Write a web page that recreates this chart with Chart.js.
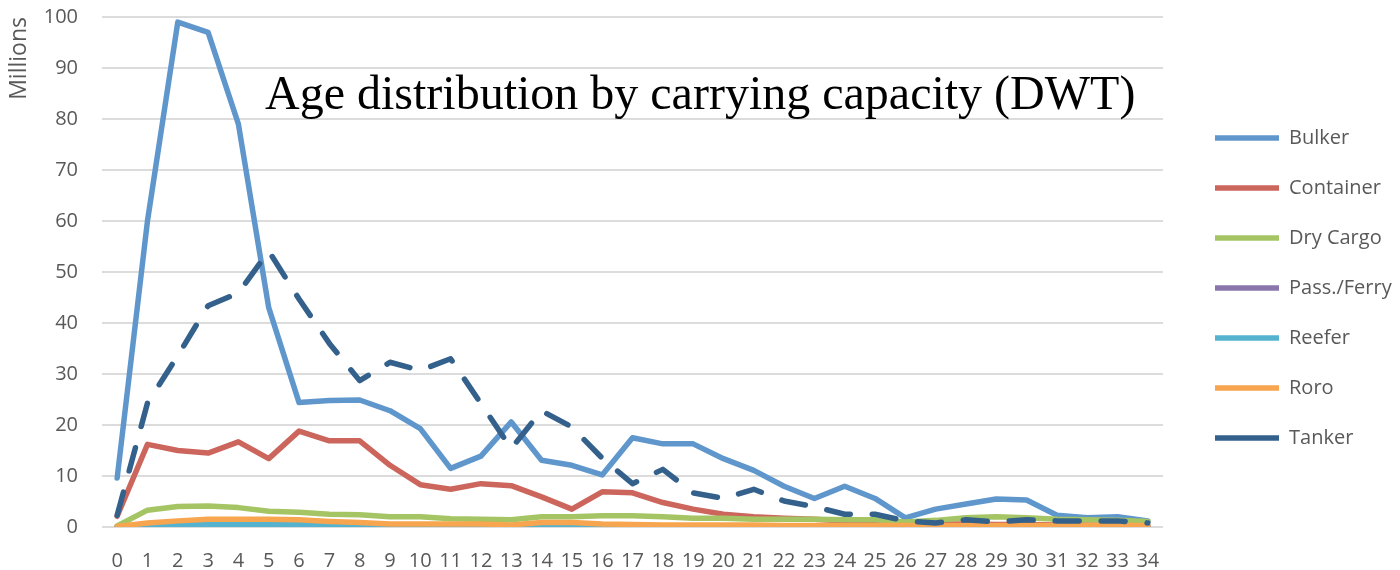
<!DOCTYPE html>
<html>
<head>
<meta charset="utf-8">
<script src="https://cdn.jsdelivr.net/npm/chart.js@4.4.1/dist/chart.umd.min.js"></script>
<style>
  html, body { margin: 0; padding: 0; background: #ffffff; }
  #wrap { width: 1400px; height: 570px; }
</style>
</head>
<body>
<div id="wrap"><canvas id="chart" width="1400" height="570"></canvas></div>
<script>
// Vessel age in years (x axis)
const ages = ['0','1','2','3','4','5','6','7','8','9','10','11','12','13','14','15','16','17',
              '18','19','20','21','22','23','24','25','26','27','28','29','30','31','32','33','34'];

// Carrying capacity in millions of DWT, per age
const bulker = [9.6, 60.0, 99.0, 97.0, 79.0, 43.0, 24.4, 24.8, 24.9, 22.8,
                19.3, 11.5, 13.9, 20.6, 13.1, 12.1, 10.2, 17.5, 16.3, 16.3,
                13.4, 11.1, 8.0, 5.6, 8.0, 5.6, 1.8, 3.5, 4.5, 5.5,
                5.3, 2.3, 1.8, 2.0, 1.2];
const container = [2.1, 16.2, 15.0, 14.5, 16.7, 13.4, 18.8, 16.9, 16.9, 12.1,
                   8.3, 7.4, 8.5, 8.1, 5.9, 3.5, 6.9, 6.7, 4.8, 3.5,
                   2.5, 2.0, 1.7, 1.5, 1.2, 1.0, 0.7, 0.6, 0.6, 0.5,
                   0.5, 0.4, 0.4, 0.3, 0.3];
const dryCargo = [0.2, 3.3, 4.0, 4.1, 3.8, 3.1, 2.9, 2.5, 2.4, 2.0,
                  2.0, 1.6, 1.5, 1.4, 2.0, 2.0, 2.2, 2.2, 2.0, 1.7,
                  1.7, 1.5, 1.5, 1.5, 1.4, 1.4, 1.0, 1.3, 1.8, 2.0,
                  1.8, 1.5, 1.4, 1.3, 1.1];
const passFerry = [0.0, 0.1, 0.1, 0.1, 0.1, 0.1, 0.1, 0.1, 0.1, 0.1,
                   0.1, 0.1, 0.1, 0.1, 0.1, 0.1, 0.1, 0.1, 0.1, 0.1,
                   0.1, 0.1, 0.1, 0.1, 0.1, 0.1, 0.0, 0.0, 0.0, 0.0,
                   0.0, 0.0, 0.0, 0.0, 0.0];
const reefer = [0.0, 0.2, 0.4, 0.5, 0.5, 0.5, 0.5, 0.4, 0.3, 0.2,
                0.2, 0.2, 0.2, 0.1, 0.1, 0.1, 0.1, 0.1, 0.1, 0.1,
                0.1, 0.1, 0.1, 0.1, 0.1, 0.1, 0.1, 0.1, 0.1, 0.1,
                0.1, 0.1, 0.1, 0.1, 0.1];
const roro = [0.1, 0.8, 1.2, 1.5, 1.5, 1.5, 1.4, 1.1, 0.9, 0.6,
              0.6, 0.6, 0.6, 0.4, 0.9, 0.9, 0.6, 0.5, 0.4, 0.4,
              0.4, 0.4, 0.3, 0.3, 0.3, 0.3, 0.3, 0.3, 0.3, 0.3,
              0.3, 0.3, 0.3, 0.3, 0.3];
const tanker = [2.3, 24.3, 33.6, 43.4, 45.9, 54.1, 44.7, 36.0, 28.7, 32.3,
                30.7, 33.0, 24.2, 15.4, 22.8, 19.6, 13.5, 8.5, 11.3, 6.7,
                5.6, 7.4, 5.1, 4.0, 2.5, 2.5, 1.2, 0.8, 1.4, 1.0,
                1.4, 1.2, 1.2, 1.2, 0.8];

const seriesNames = ['Bulker', 'Container', 'Dry Cargo', 'Pass./Ferry', 'Reefer', 'Roro', 'Tanker'];
const seriesValues = [bulker, container, dryCargo, passFerry, reefer, roro, tanker];
const seriesColors = ['#5f97cc', '#cc665c', '#a5c464', '#8a75ad', '#55b3cf', '#f7a54f', '#34618c'];

const yMin = 0;
const yMax = 100;
const yStep = 10;

const chartTitle = 'Age distribution by carrying capacity (DWT)';
const yAxisLabel = 'Millions';

const textGrey = '#595959';
const uiFont = '"Open Sans", "DejaVu Sans", sans-serif';

// Datasets: later series are painted over earlier ones, Tanker is dashed
const datasets = seriesNames.map((name, i) => ({
  label: name,
  data: seriesValues[i],
  borderColor: seriesColors[i],
  backgroundColor: seriesColors[i],
  borderWidth: 5.5,
  borderCapStyle: 'round',
  borderJoinStyle: 'round',
  borderDash: name === 'Tanker' ? [24, 22] : [],
  pointRadius: 0,
  pointHoverRadius: 0,
  tension: 0,
  fill: false,
  order: seriesNames.length - i
}));

// Heading placed inside the plot, above the curves' tails
const insetTitle = {
  id: 'insetTitle',
  afterDraw(chart) {
    const { ctx, chartArea } = chart;
    ctx.save();
    ctx.font = '48px "Liberation Serif", "Times New Roman", serif';
    ctx.fillStyle = '#000000';
    ctx.textAlign = 'left';
    ctx.textBaseline = 'alphabetic';
    ctx.fillText(chartTitle, chartArea.left + 163, chartArea.top + 92);
    ctx.restore();
  }
};

new Chart(document.getElementById('chart'), {
  type: 'line',
  data: { labels: ages, datasets },
  plugins: [insetTitle],
  options: {
    responsive: false,
    animation: false,
    devicePixelRatio: 1,
    layout: { padding: { top: 6, bottom: 0, left: 0, right: 0 } },
    plugins: {
      legend: {
        position: 'right',
        maxWidth: 215,
        labels: {
          usePointStyle: true,
          pointStyle: 'line',
          pointStyleWidth: 64,
          padding: 30,
          color: textGrey,
          font: { family: uiFont, size: 20 },
          sort: (a, b) => a.datasetIndex - b.datasetIndex
        }
      },
      tooltip: { enabled: false }
    },
    scales: {
      x: {
        offset: true,
        grid: { display: false, drawTicks: false },
        border: { display: false },
        ticks: {
          padding: 22,
          color: textGrey,
          font: { family: uiFont, size: 20 },
          maxRotation: 0,
          autoSkip: false
        },
        afterFit(scale) { scale.height = 43; }
      },
      y: {
        min: yMin,
        max: yMax,
        ticks: {
          stepSize: yStep,
          padding: 24,
          color: textGrey,
          font: { family: uiFont, size: 20 }
        },
        grid: { color: '#dcdcdc', lineWidth: 2, drawTicks: false },
        border: { display: false },
        title: {
          display: true,
          text: yAxisLabel,
          align: 'end',
          color: textGrey,
          font: { family: uiFont, size: 23 },
          padding: { top: 6, bottom: 0 }
        },
        afterFit(scale) {
          scale.width = 102;
          scale.paddingTop = 17;
          scale.paddingBottom = 0;
        }
      },
      legendGap: {
        type: 'linear',
        position: 'right',
        display: true,
        grid: { display: false, drawTicks: false },
        border: { display: false },
        ticks: { display: false },
        afterFit(scale) { scale.width = 22; }
      }
    }
  }
});
</script>
</body>
</html>
